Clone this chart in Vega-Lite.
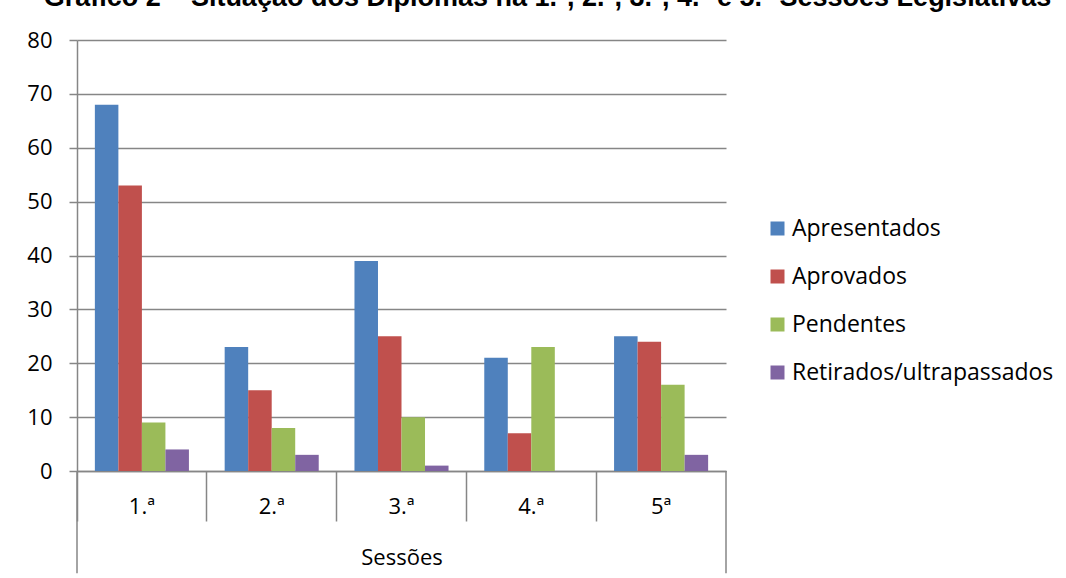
{
  "$schema": "https://vega.github.io/schema/vega-lite/v6.json",
  "width": 649,
  "height": 431,
  "autosize": {"type": "none"},
  "padding": {"left": 77, "top": 40, "right": 340, "bottom": 107},
  "background": "white",
  "title": {
    "text": "Gráfico 2 – Situação dos Diplomas na 1.ª, 2.ª, 3.ª, 4.ª e 5.ª Sessões Legislativas",
    "font": "Liberation Sans",
    "fontSize": 27,
    "fontWeight": "bold",
    "color": "black",
    "anchor": "middle",
    "frame": "group",
    "baseline": "alphabetic",
    "offset": 5,
    "dx": 146,
    "dy": 9
  },
  "config": {
    "view": {"stroke": null},
    "font": "Open Sans",
    "axis": {
      "labelFont": "Open Sans",
      "titleFont": "Open Sans",
      "labelColor": "black",
      "titleColor": "black",
      "labelFontSize": 22,
      "titleFontSize": 22,
      "titleFontWeight": "normal",
      "domainColor": "#868686",
      "tickColor": "#868686",
      "gridColor": "#868686",
      "domainWidth": 1.5,
      "tickWidth": 1.5,
      "gridWidth": 1.5
    },
    "legend": {"labelFont": "Open Sans", "labelFontSize": 23, "labelColor": "black", "labelLimit": 400}
  },
  "data": {
    "values": [
      {"Sessao": "1.ª", "Situacao": "Apresentados", "Valor": 68},
      {"Sessao": "1.ª", "Situacao": "Aprovados", "Valor": 53},
      {"Sessao": "1.ª", "Situacao": "Pendentes", "Valor": 9},
      {"Sessao": "1.ª", "Situacao": "Retirados/ultrapassados", "Valor": 4},
      {"Sessao": "2.ª", "Situacao": "Apresentados", "Valor": 23},
      {"Sessao": "2.ª", "Situacao": "Aprovados", "Valor": 15},
      {"Sessao": "2.ª", "Situacao": "Pendentes", "Valor": 8},
      {"Sessao": "2.ª", "Situacao": "Retirados/ultrapassados", "Valor": 3},
      {"Sessao": "3.ª", "Situacao": "Apresentados", "Valor": 39},
      {"Sessao": "3.ª", "Situacao": "Aprovados", "Valor": 25},
      {"Sessao": "3.ª", "Situacao": "Pendentes", "Valor": 10},
      {"Sessao": "3.ª", "Situacao": "Retirados/ultrapassados", "Valor": 1},
      {"Sessao": "4.ª", "Situacao": "Apresentados", "Valor": 21},
      {"Sessao": "4.ª", "Situacao": "Aprovados", "Valor": 7},
      {"Sessao": "4.ª", "Situacao": "Pendentes", "Valor": 23},
      {"Sessao": "4.ª", "Situacao": "Retirados/ultrapassados", "Valor": 0},
      {"Sessao": "5ª", "Situacao": "Apresentados", "Valor": 25},
      {"Sessao": "5ª", "Situacao": "Aprovados", "Valor": 24},
      {"Sessao": "5ª", "Situacao": "Pendentes", "Valor": 16},
      {"Sessao": "5ª", "Situacao": "Retirados/ultrapassados", "Valor": 3}
    ]
  },
  "layer": [
    {
      "mark": {"type": "bar"},
      "encoding": {
        "x": {
          "field": "Sessao",
          "type": "nominal",
          "sort": ["1.ª", "2.ª", "3.ª", "4.ª", "5ª"],
          "scale": {"paddingInner": 0, "paddingOuter": 0},
          "axis": {
            "title": "Sessões",
            "labelAngle": 0,
            "bandPosition": 0,
            "tickSize": 50,
            "labelOffset": 0,
            "labelBaseline": "middle",
            "labelPadding": -15,
            "titlePadding": 26,
            "grid": false
          }
        },
        "xOffset": {
          "field": "Situacao",
          "type": "nominal",
          "sort": ["Apresentados", "Aprovados", "Pendentes", "Retirados/ultrapassados"],
          "scale": {"paddingInner": 0, "paddingOuter": 0.76}
        },
        "y": {
          "field": "Valor",
          "type": "quantitative",
          "scale": {"domain": [0, 80], "nice": false},
          "axis": {
            "title": null,
            "values": [0, 10, 20, 30, 40, 50, 60, 70, 80],
            "tickSize": 8,
            "labelPadding": 17,
            "grid": true
          }
        },
        "color": {
          "field": "Situacao",
          "type": "nominal",
          "sort": ["Apresentados", "Aprovados", "Pendentes", "Retirados/ultrapassados"],
          "scale": {
            "domain": ["Apresentados", "Aprovados", "Pendentes", "Retirados/ultrapassados"],
            "range": ["#4F81BD", "#C0504D", "#9BBB59", "#8064A2"]
          },
          "legend": {
            "title": null,
            "orient": "none",
            "legendX": 689,
            "legendY": 177,
            "symbolType": "square",
            "symbolSize": 196,
            "symbolStrokeWidth": 0,
            "labelOffset": 3,
            "rowPadding": 24
          }
        }
      }
    },
    {
      "data": {"values": [{"Sessao": "1.ª", "Inicio": 0, "Fim": -19}]},
      "mark": {"type": "rule", "color": "#868686", "strokeWidth": 1.5},
      "encoding": {
        "x": {"field": "Sessao", "type": "nominal", "bandPosition": 0},
        "y": {"field": "Inicio", "type": "quantitative"},
        "y2": {"field": "Fim"}
      }
    },
    {
      "data": {"values": [{"Sessao": "5ª", "Inicio": 0, "Fim": -19}]},
      "mark": {"type": "rule", "color": "#868686", "strokeWidth": 1.5},
      "encoding": {
        "x": {"field": "Sessao", "type": "nominal", "bandPosition": 1},
        "y": {"field": "Inicio", "type": "quantitative"},
        "y2": {"field": "Fim"}
      }
    }
  ]
}
